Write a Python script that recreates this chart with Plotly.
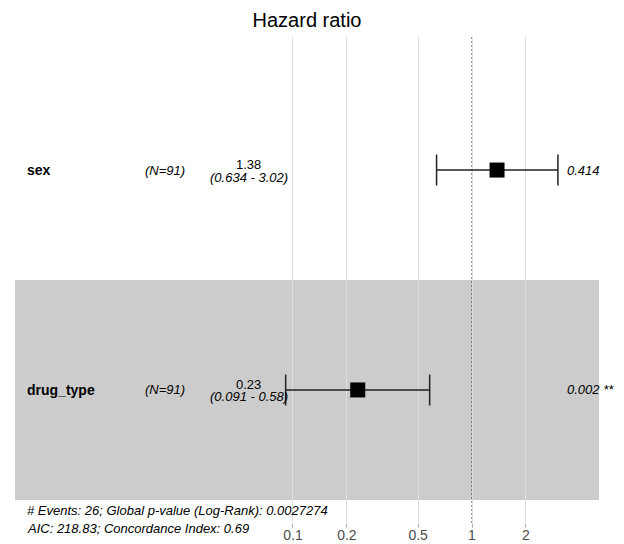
import plotly.graph_objects as go

# ---- data ----
variables = ["sex", "drug_type"]
n_obs = ["(N=91)", "(N=91)"]
hr = [1.38, 0.23]
ci_low = [0.634, 0.091]
ci_high = [3.02, 0.58]
hr_text = ["1.38", "0.23"]
ci_text = ["(0.634 - 3.02)", "(0.091 - 0.58)"]
p_text = ["0.414", "0.002 **"]
tick_vals = [0.1, 0.2, 0.5, 1, 2]
tick_text = ["0.1", "0.2", "0.5", "1", "2"]
footer = ["# Events: 26; Global p-value (Log-Rank): 0.0027274",
          "AIC: 218.83; Concordance Index: 0.69"]

# row positions (top row first)
rows = list(range(len(variables), 0, -1))

# layout constants
XR = [-2.553, 0.7095]          # log10 range
YR = [0.395, len(variables) + 0.605]
COL_VAR = -2.497
COL_N = -1.715
COL_EST = -1.246
COL_P = 0.520
FONT = "Liberation Sans, Arial, sans-serif"

fig = go.Figure()

fig.add_trace(go.Scatter(
    x=hr, y=rows, mode="markers",
    marker=dict(symbol="square", size=15, color="black"),
    error_x=dict(type="data", symmetric=False,
                 array=[hi - h for h, hi in zip(hr, ci_high)],
                 arrayminus=[h - lo for h, lo in zip(hr, ci_low)],
                 color="#222222", thickness=1.5, width=15.5),
    hoverinfo="skip", showlegend=False,
))

shapes = []
# alternating row bands
for i, r in enumerate(rows):
    if i % 2 == 1:
        shapes.append(dict(type="rect", xref="paper", yref="y",
                           x0=0, x1=1, y0=r - 0.5, y1=r + 0.5,
                           fillcolor="rgba(0,0,0,0.2)", line=dict(width=0),
                           layer="between"))
# reference line at HR = 1
xfrac = (0 - XR[0]) / (XR[1] - XR[0])
shapes.append(dict(type="line", xref="paper", yref="paper",
                   x0=xfrac, x1=xfrac, y0=0, y1=1,
                   line=dict(color="#333333", width=1, dash="2px,2px"),
                   layer="between"))

ann = []
for i, r in enumerate(rows):
    ann.append(dict(x=COL_VAR, y=r, xref="x", yref="y", text="<b>%s</b>" % variables[i],
                    showarrow=False, xanchor="left", yanchor="middle",
                    font=dict(size=14, color="black", family=FONT)))
    ann.append(dict(x=COL_N, y=r, xref="x", yref="y", text=n_obs[i],
                    showarrow=False, xanchor="center", yanchor="middle",
                    font=dict(size=13, color="black", family=FONT, style="italic")))
    ann.append(dict(x=COL_EST, y=r, xref="x", yref="y", text=hr_text[i], yshift=5.5,
                    showarrow=False, xanchor="center", yanchor="middle",
                    font=dict(size=13, color="black", family=FONT)))
    ann.append(dict(x=COL_EST, y=r, xref="x", yref="y", text=ci_text[i], yshift=-7,
                    showarrow=False, xanchor="center", yanchor="middle",
                    font=dict(size=13, color="black", family=FONT, style="italic")))
    ann.append(dict(x=COL_P, y=r, xref="x", yref="y", text=p_text[i],
                    showarrow=False, xanchor="left", yanchor="middle",
                    font=dict(size=13, color="black", family=FONT, style="italic")))

for j, line in enumerate(footer):
    ann.append(dict(x=COL_VAR, y=0.45, xref="x", yref="y", text=line, yshift=-18 * j,
                    showarrow=False, xanchor="left", yanchor="middle",
                    font=dict(size=13, color="black", family=FONT, style="italic")))

fig.update_layout(
    width=624, height=544,
    margin=dict(l=15, r=25, t=37, b=21, autoexpand=False),
    paper_bgcolor="white", plot_bgcolor="white",
    title=dict(text="Hazard ratio", x=0.5, xref="paper", xanchor="center",
               y=1 - 20 / 544, yref="container", yanchor="middle",
               font=dict(size=20, color="black", family=FONT)),
    xaxis=dict(type="log", range=XR, tickvals=tick_vals, ticktext=tick_text,
               showgrid=True, gridcolor="#DEDEDE", gridwidth=1, zeroline=False,
               showline=False, ticks="outside", ticklen=4, tickcolor="#B3B3B3",
               ticklabelstandoff=-5, automargin=False,
               tickfont=dict(size=14, color="#4D4D4D", family=FONT)),
    yaxis=dict(range=YR, showgrid=False, zeroline=False, showticklabels=False,
               ticks="", showline=False, automargin=False),
    shapes=shapes, annotations=ann,
)

fig.write_html("out.html", config={"displayModeBar": False},
               post_script="document.body.style.margin='0';")
